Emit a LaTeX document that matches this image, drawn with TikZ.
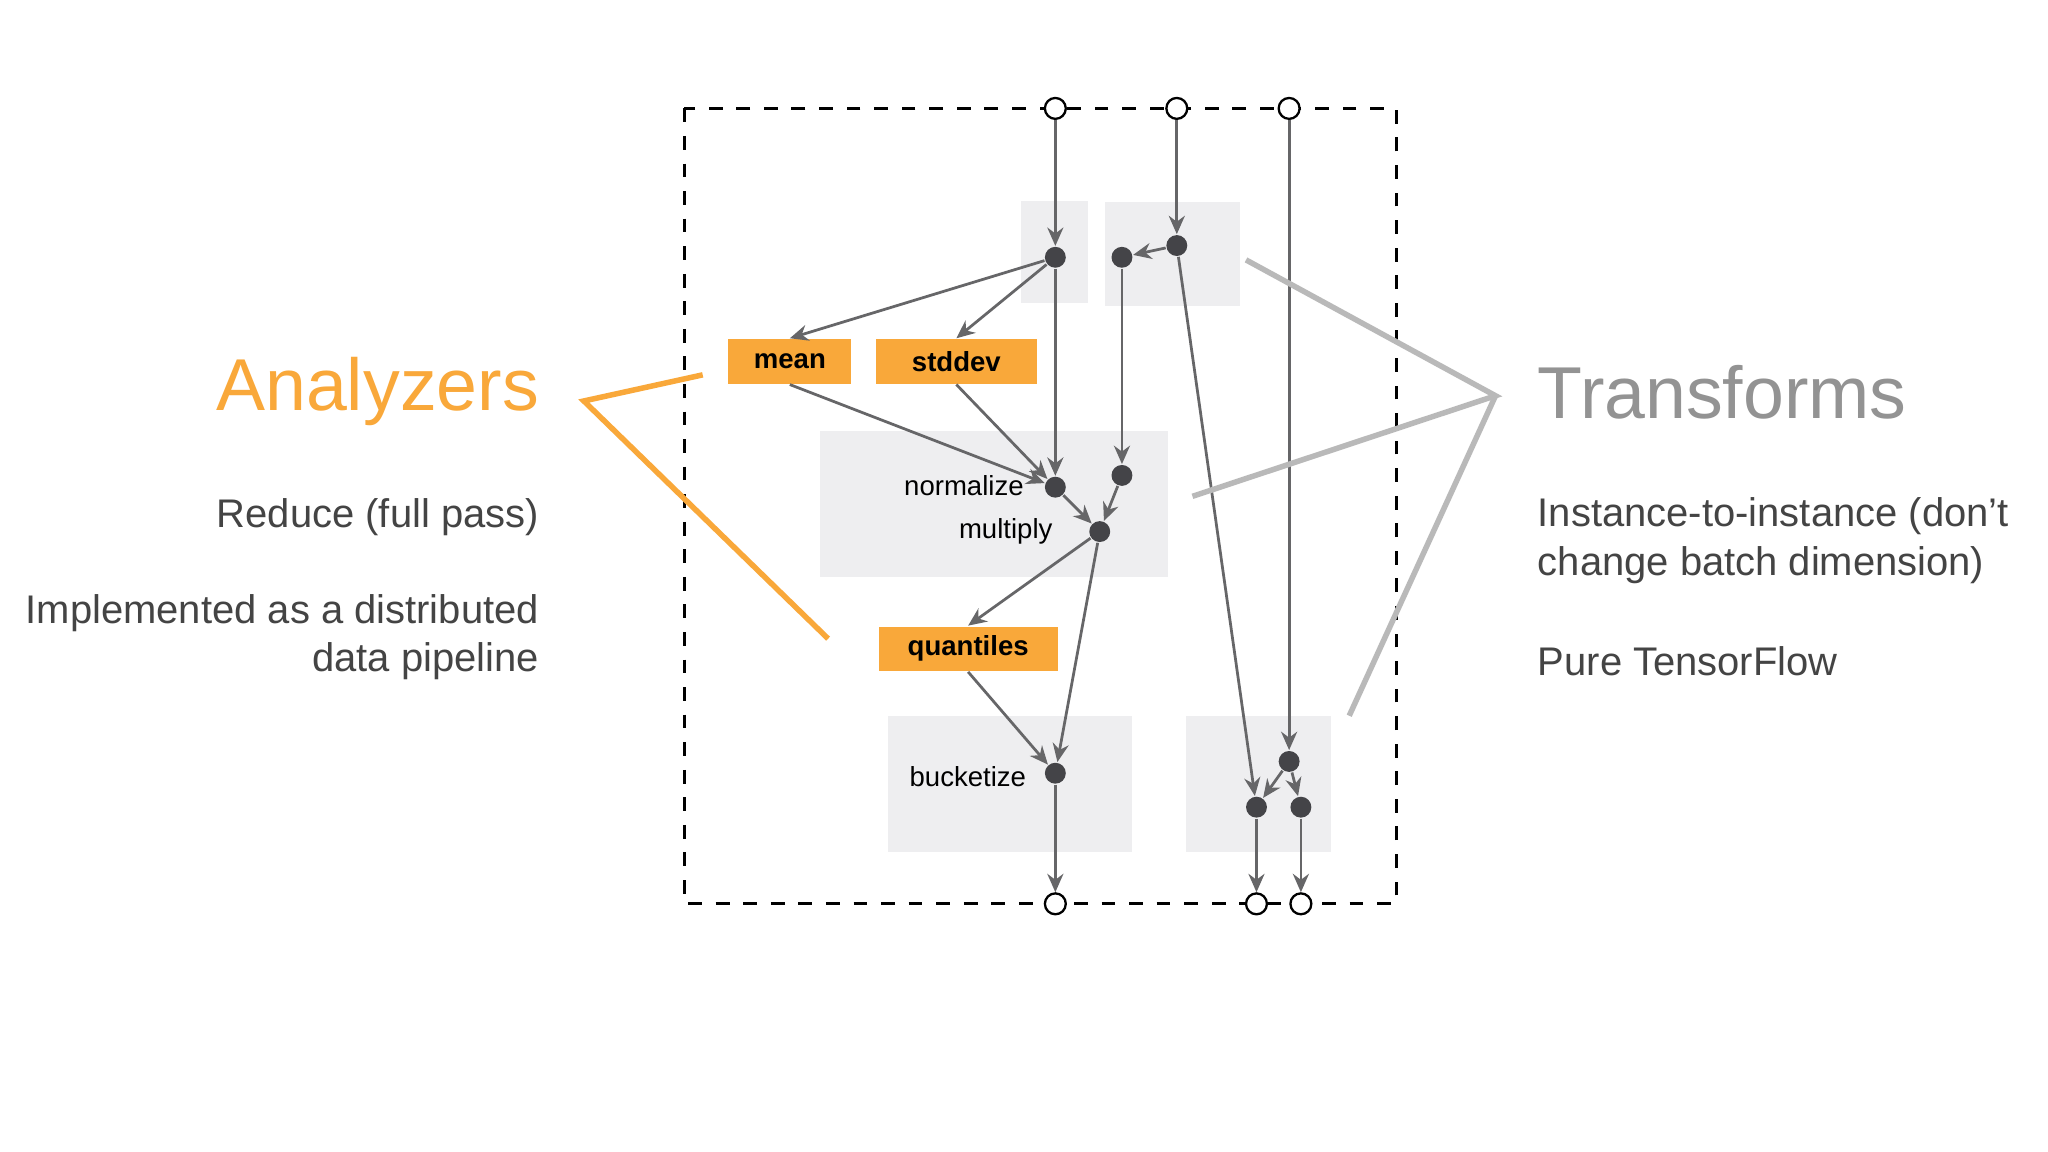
\documentclass[tikz,border=0pt]{standalone}
\usepackage{fontspec}
\setmainfont{Liberation Sans}
\usetikzlibrary{arrows.meta}
\definecolor{orng}{HTML}{F9A83A}
\definecolor{pan}{HTML}{EEEEF0}
\definecolor{dotc}{HTML}{444448}
\definecolor{arr}{HTML}{666668}
\definecolor{txt}{HTML}{444444}
\begin{document}
\begin{tikzpicture}[x=0.01cm,y=-0.01cm,
  panel/.style={fill=pan,draw=none},
  port/.style={circle,draw=black,fill=white,minimum size=0.16cm,inner sep=0,line width=0.5pt},
  dot/.style={circle,fill=dotc,minimum size=0.16cm,inner sep=0},
  obox/.style={fill=orng,font=\fontsize{6}{7}\selectfont\bfseries,inner sep=0,anchor=north west},
  ar/.style={draw=arr,line width=0.6pt,-{Stealth[length=4pt,width=3.5pt]}},
  lbl/.style={font=\fontsize{6}{7}\selectfont,text=black},
  big/.style={font=\fontsize{16}{18}\selectfont},
  body/.style={font=\fontsize{8.7}{10.5}\selectfont,text=txt}]
\useasboundingbox[fill=white] (0,0) rectangle (1568,882);
% panels
\fill[pan] (782,154) rectangle (833,232);
\fill[pan] (846,155) rectangle (949,234);
\fill[pan] (628,330) rectangle (894,442);
\fill[pan] (680,548) rectangle (867,652);
\fill[pan] (908,548) rectangle (1019,652);
\draw[dashed,line width=0.6pt] (524,83) rectangle (1069,692);
% ports
\node[port] (t1) at (808,83) {};
\node[port] (t2) at (901,83) {};
\node[port] (t3) at (987,83) {};
\node[port] (b1) at (808,692) {};
\node[port] (b2) at (962,692) {};
\node[port] (b3) at (996,692) {};
% dots
\node[dot] (a) at (808,197) {};
\node[dot] (b) at (859,197) {};
\node[dot] (c) at (901,188) {};
\node[dot] (norm) at (808,373) {};
\node[dot] (d) at (859,364) {};
\node[dot] (mult) at (842,407) {};
\node[dot] (buck) at (808,592) {};
\node[dot] (e) at (987,583) {};
\node[dot] (f) at (962,618) {};
\node[dot] (g) at (996,618) {};
% boxes
\node[obox,minimum width=0.94cm,minimum height=0.34cm] (mean) at (557,259) {mean};
\node[obox,minimum width=1.23cm,minimum height=0.34cm] (std) at (670,259) {stddev};
\node[obox,minimum width=1.37cm,minimum height=0.34cm] (quant) at (672,479) {quantiles};
% labels
\node[lbl] (ln) at (738,372) {normalize};
\node[lbl] (lm) at (770,407) {multiply};
\node[lbl] (lb) at (741,595) {bucketize};
% arrows
\draw[ar] (t1) -- (a);
\draw[ar] (t2) -- (c);
\draw[ar] (c) -- (b);
\draw[ar] (t3) -- (e);
\draw[ar] (a) -- (mean.north);
\draw[ar] (a) -- (std.north);
\draw[ar] (a) -- (norm);
\draw[ar] (mean.south) -- (norm);
\draw[ar] (std.south) -- (norm);
\draw[ar] (b) -- (d);
\draw[ar] (norm) -- (mult);
\draw[ar] (d) -- (mult);
\draw[ar] (mult) -- (quant.north);
\draw[ar] (mult) -- (buck);
\draw[ar] (quant.south) -- (buck);
\draw[ar] (buck) -- (b1);
\draw[ar] (c) -- (f);
\draw[ar] (e) -- (f);
\draw[ar] (e) -- (g);
\draw[ar] (f) -- (b2);
\draw[ar] (g) -- (b3);
% left text
\node[big,text=orng,anchor=east] (an) at (425,300) {Analyzers};
\coordinate (aj) at (447,307);
\draw[orng,line width=1.2pt] (538,287) -- (aj) -- (634,489);
\node[body,anchor=east] (r1) at (425,396) {Reduce (full pass)};
\node[body,anchor=east,align=right] (r2) at (425,488) {Implemented as a distributed\\data pipeline};
% right text
\node[big,text=gray!85,anchor=west] (tr) at (1165,300) {Transforms};
\coordinate (tj) at (1145,303);
\draw[gray!55,line width=1.2pt] (954,199) -- (tj) -- (913,380);
\draw[gray!55,line width=1.2pt] (tj) -- (1033,548);
\node[body,anchor=west,align=left] (s1) at (1165,414) {Instance-to-instance (don’t\\change batch dimension)};
\node[body,anchor=west] (s2) at (1165,506) {Pure TensorFlow};
\end{tikzpicture}
\end{document}
